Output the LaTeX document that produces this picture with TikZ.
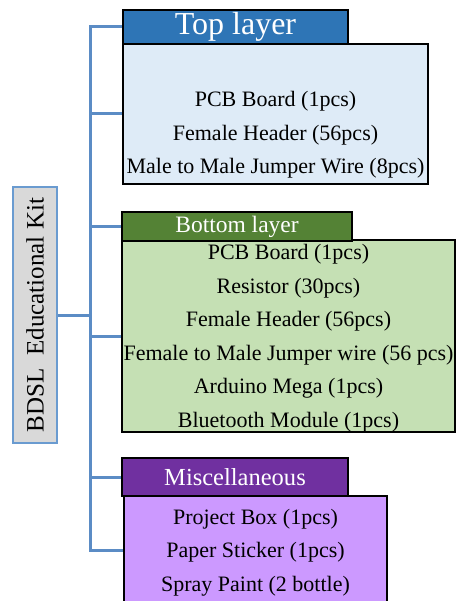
\documentclass[tikz,border=0pt]{standalone}
\usepackage{fontspec}
\setmainfont{Liberation Serif}
\definecolor{linkblue}{HTML}{5B8CC5}
\definecolor{rootedge}{HTML}{6A9BD0}
\definecolor{rootfill}{HTML}{D9D9D9}
\definecolor{tophead}{HTML}{2E75B6}
\definecolor{topfill}{HTML}{DEEBF7}
\definecolor{bothead}{HTML}{548235}
\definecolor{botfill}{HTML}{C5E0B4}
\definecolor{mischead}{HTML}{7030A0}
\definecolor{miscfill}{HTML}{CC99FF}
% a taller first line pushes a list a little lower in its box
\newcommand{\firstlift}{\rule{0pt}{20pt}}
\begin{document}
\begin{tikzpicture}[x=1pt,y=-1pt,
  headbox/.style={draw=black, line width=1.6pt, inner sep=0pt, text=white, anchor=center},
  listbox/.style={draw=black, line width=1.6pt, inner sep=0pt, align=center, anchor=center,
    font=\fontsize{22}{33.5}\selectfont},
  link/.style={draw=linkblue, line width=3pt}]
\useasboundingbox (0,0) rectangle (457,601);

% root of the tree, written bottom to top
\node[draw=rootedge, fill=rootfill, line width=2.2pt, rotate=90, inner sep=0pt,
      minimum width=256pt, minimum height=44pt,
      font=\fontsize{25}{28}\selectfont] (root) at (35,315) {BDSL\ \ Educational Kit};

% item boxes
\node[listbox, fill=topfill, minimum width=305pt, minimum height=140pt] (topbody) at (275.5,114)
  {\rule{0pt}{24pt}\\PCB Board (1pcs)\\Female Header (56pcs)\\Male to Male Jumper Wire (8pcs)};
\node[listbox, fill=botfill, minimum width=333pt, minimum height=190pt] (botbody) at (288.5,336)
  {\firstlift PCB Board (1pcs)\\Resistor (30pcs)\\Female Header (56pcs)\\Female to Male Jumper wire (56 pcs)\\Arduino Mega (1pcs)\\Bluetooth Module (1pcs)};
\node[listbox, fill=miscfill, minimum width=263pt, minimum height=108pt] (miscbody) at (255.5,550)
  {\firstlift Project Box (1pcs)\\Paper Sticker (1pcs)\\Spray Paint (2 bottle)};

% group titles
\node[headbox, fill=tophead, minimum width=225pt, minimum height=34pt,
      font=\fontsize{32}{34}\selectfont] (tophd) at (235.5,27) {Top layer};
\node[headbox, fill=bothead, minimum width=230pt, minimum height=29pt,
      font=\fontsize{23.5}{25}\selectfont] (bothd) at (237,226.5) {Bottom layer};
\node[headbox, fill=mischead, minimum width=226pt, minimum height=38pt,
      font=\fontsize{24.5}{26}\selectfont] (mischd) at (235,477) {Miscellaneous};

% connectors
\coordinate (trunk) at (90,0);
\draw[link] (tophd.west) -- (tophd.west -| trunk) -- (miscbody.west -| trunk) -- (miscbody.west);
\draw[link] (root.south) -- (root.south -| trunk);
\draw[link] (topbody.west -| trunk) -- (topbody.west);
\draw[link] (bothd.west -| trunk) -- (bothd.west);
\draw[link] (botbody.west -| trunk) -- (botbody.west);
\draw[link] (mischd.west -| trunk) -- (mischd.west);
\end{tikzpicture}
\end{document}
